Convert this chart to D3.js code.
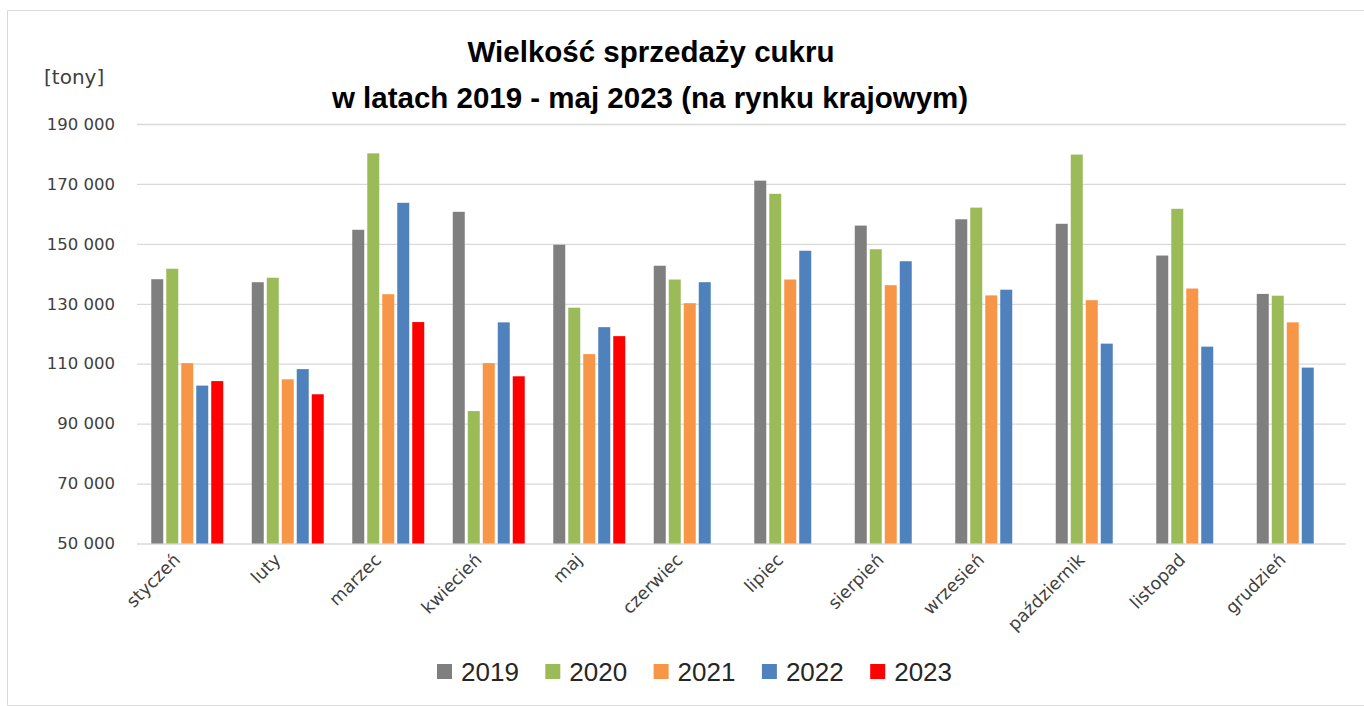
<!DOCTYPE html>
<html>
<head>
<meta charset="utf-8">
<script src="https://cdn.jsdelivr.net/npm/d3@7"></script>
<style>
  body { margin: 0; background: #fff; }
  svg { display: block; }
</style>
</head>
<body>
<svg width="1364" height="706"></svg>
<script>
var months = ["styczeń", "luty", "marzec", "kwiecień", "maj", "czerwiec",
              "lipiec", "sierpień", "wrzesień", "październik", "listopad", "grudzień"];
var years = ["2019", "2020", "2021", "2022", "2023"];

var v2019 = [138200, 137200, 154700, 160700, 149700, 142700, 171100, 156100, 158200, 156700, 146100, 133300];
var v2020 = [141700, 138700, 180200, 94200, 128700, 138100, 166700, 148200, 162100, 179800, 161700, 132700];
var v2021 = [110200, 104800, 133200, 110200, 113200, 130200, 138100, 136200, 132800, 131200, 135100, 123800];
var v2022 = [102700, 108200, 163700, 123800, 122200, 137200, 147700, 144200, 134700, 116700, 115700, 108700];
// 2023 only up to May
var v2023 = [104200, 99800, 123900, 105800, 119200];

var yTicks = [50000, 70000, 90000, 110000, 130000, 150000, 170000, 190000];
var colors = ["#7f7f7f", "#9bbb59", "#f79646", "#4f81bd", "#ff0000"];

var series = [v2019, v2020, v2021, v2022, v2023];

var svg = d3.select("svg");

// chart frame (right edge is cut off in the original)
svg.append("path")
    .attr("d", "M1364,10.5 H7.5 V705.5 H1364")
    .attr("fill", "none")
    .attr("stroke", "#d9d9d9")
    .attr("stroke-width", 1);

var x0 = d3.scaleBand()
    .domain(months)
    .range([137, 1343])
    .paddingInner(0.254)
    .paddingOuter(0.127);

var x1 = d3.scaleBand()
    .domain(years)
    .range([0, x0.bandwidth()])
    .paddingInner(0.2)
    .paddingOuter(0.1);

var y = d3.scaleLinear()
    .domain([50000, 190000])
    .range([543.5, 124]);

var color = d3.scaleOrdinal().domain(years).range(colors);

var locale = d3.formatLocale({decimal: ",", thousands: " ", grouping: [3], currency: ["", " zł"]});
var fmt = locale.format(",d");

// gridlines + y labels
var yAxis = d3.axisLeft(y)
    .tickValues(yTicks)
    .tickSize(-(1346 - 137))
    .tickPadding(22)
    .tickFormat(fmt);

var gy = svg.append("g")
    .attr("transform", "translate(137,0)")
    .call(yAxis);
gy.select(".domain").remove();
gy.selectAll(".tick line")
    .attr("stroke", "#d9d9d9")
    .attr("stroke-width", 1.3);
gy.selectAll(".tick text")
    .style("font-family", "'DejaVu Sans', sans-serif")
    .style("font-size", "16.5px")
    .style("fill", "#404040");

// bars
var rows = [];
months.forEach(function(m, i) {
  years.forEach(function(yr, j) {
    if (series[j][i] != null) rows.push({month: m, year: yr, value: series[j][i]});
  });
});

svg.append("g").selectAll("rect")
    .data(rows)
  .enter().append("rect")
    .attr("x", function(d) { return x0(d.month) + x1(d.year); })
    .attr("y", function(d) { return y(d.value); })
    .attr("width", x1.bandwidth())
    .attr("height", function(d) { return y(50000) - y(d.value); })
    .attr("fill", function(d) { return color(d.year); });

// month labels, rotated
svg.append("g").selectAll("text")
    .data(months)
  .enter().append("text")
    .attr("transform", function(d) {
      return "translate(" + (x0(d) + x0.bandwidth() / 2 - 6) + ",561) rotate(-45)";
    })
    .attr("text-anchor", "end")
    .style("font-family", "'DejaVu Sans', sans-serif")
    .style("font-size", "17.5px")
    .style("fill", "#404040")
    .text(function(d) { return d; });

// title
var title = svg.append("text")
    .attr("text-anchor", "middle")
    .style("font-family", "'Liberation Sans', Arial, sans-serif")
    .style("font-weight", "bold")
    .style("font-size", "29.5px")
    .style("fill", "#000");
title.append("tspan").attr("x", 651).attr("y", 62).text("Wielkość sprzedaży cukru");
title.append("tspan").attr("x", 650).attr("y", 108).text("w latach 2019 - maj 2023 (na rynku krajowym)");

svg.append("text")
    .attr("x", 44)
    .attr("y", 84)
    .style("font-family", "'DejaVu Sans', sans-serif")
    .style("font-size", "20px")
    .style("fill", "#404040")
    .text("[tony]");

// legend
var legend = svg.append("g").selectAll("g")
    .data(years)
  .enter().append("g")
    .attr("transform", function(d, i) { return "translate(" + (437 + i * 108.3) + ",664)"; });

legend.append("rect")
    .attr("width", 15)
    .attr("height", 15)
    .attr("fill", function(d) { return color(d); });

legend.append("text")
    .attr("x", 24)
    .attr("y", 17)
    .style("font-family", "'Liberation Sans', Arial, sans-serif")
    .style("font-size", "26px")
    .style("fill", "#262626")
    .text(function(d) { return d; });
</script>
</body>
</html>
